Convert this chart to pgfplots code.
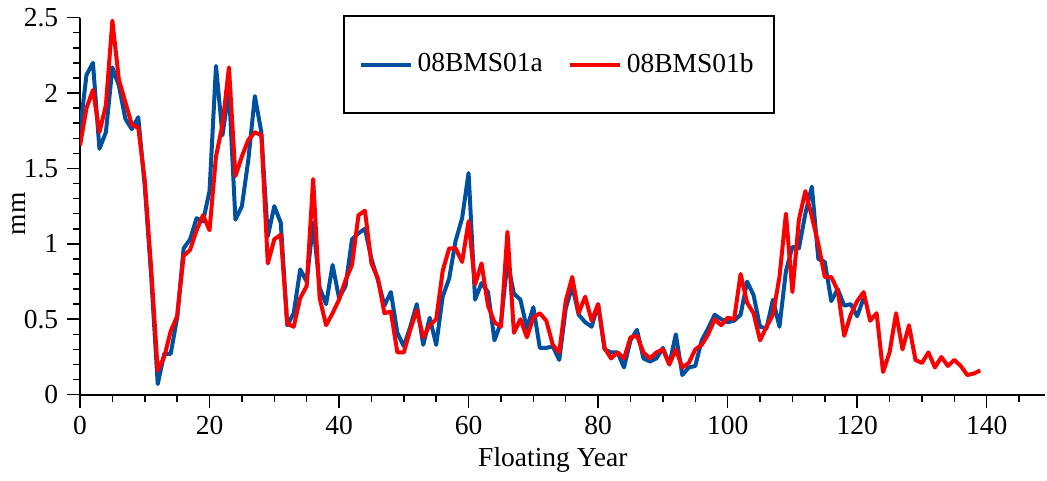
\documentclass[border=0pt]{standalone}
\usepackage{pgfplots}
\pgfplotsset{compat=1.18}
\usepackage{fontspec}
\setmainfont{Liberation Serif}

\definecolor{serblue}{RGB}{0,80,160}
\definecolor{serred}{RGB}{250,0,0}

% ring widths, floating years
\pgfplotstableread{
x y
0 1.75
1 2.12
2 2.20
3 1.63
4 1.74
5 2.17
6 2.05
7 1.83
8 1.76
9 1.84
10 1.38
11 0.78
12 0.07
13 0.27
14 0.27
15 0.51
16 0.97
17 1.03
18 1.17
19 1.15
20 1.35
21 2.18
22 1.72
23 2.02
24 1.16
25 1.25
26 1.56
27 1.98
28 1.74
29 1.05
30 1.25
31 1.14
32 0.46
33 0.54
34 0.83
35 0.75
36 1.14
37 0.71
38 0.60
39 0.86
40 0.64
41 0.72
42 1.03
43 1.07
44 1.10
45 0.90
46 0.76
47 0.59
48 0.68
49 0.41
50 0.32
51 0.45
52 0.60
53 0.33
54 0.51
55 0.33
56 0.65
57 0.77
58 1.02
59 1.17
60 1.47
61 0.63
62 0.74
63 0.68
64 0.36
65 0.48
66 0.88
67 0.67
68 0.63
69 0.44
70 0.58
71 0.31
72 0.31
73 0.32
74 0.23
75 0.57
76 0.72
77 0.53
78 0.48
79 0.45
80 0.60
81 0.30
82 0.28
83 0.28
84 0.18
85 0.36
86 0.43
87 0.24
88 0.22
89 0.24
90 0.31
91 0.20
92 0.40
93 0.13
94 0.18
95 0.19
96 0.36
97 0.44
98 0.53
99 0.50
100 0.48
101 0.49
102 0.53
103 0.75
104 0.66
105 0.45
106 0.44
107 0.63
108 0.45
109 0.82
110 0.98
111 0.97
112 1.20
113 1.38
114 0.90
115 0.88
116 0.62
117 0.70
118 0.59
119 0.60
120 0.52
121 0.64
}\seriesA

\pgfplotstableread{
x y
0 1.65
1 1.90
2 2.02
3 1.74
4 1.92
5 2.48
6 2.09
7 1.94
8 1.79
9 1.77
10 1.42
11 0.83
12 0.16
13 0.25
14 0.42
15 0.52
16 0.92
17 0.96
18 1.09
19 1.19
20 1.09
21 1.58
22 1.79
23 2.17
24 1.45
25 1.58
26 1.69
27 1.74
28 1.72
29 0.87
30 1.03
31 1.06
32 0.47
33 0.45
34 0.64
35 0.72
36 1.43
37 0.64
38 0.46
39 0.54
40 0.63
41 0.76
42 0.86
43 1.19
44 1.22
45 0.87
46 0.77
47 0.54
48 0.55
49 0.28
50 0.28
51 0.43
52 0.56
53 0.38
54 0.46
55 0.50
56 0.82
57 0.97
58 0.97
59 0.88
60 1.15
61 0.73
62 0.87
63 0.59
64 0.48
65 0.45
66 1.08
67 0.41
68 0.50
69 0.38
70 0.51
71 0.54
72 0.49
73 0.33
74 0.28
75 0.62
76 0.78
77 0.54
78 0.65
79 0.49
80 0.60
81 0.31
82 0.24
83 0.28
84 0.24
85 0.38
86 0.39
87 0.28
88 0.24
89 0.28
90 0.30
91 0.20
92 0.30
93 0.18
94 0.21
95 0.30
96 0.33
97 0.40
98 0.50
99 0.46
100 0.51
101 0.50
102 0.80
103 0.61
104 0.54
105 0.36
106 0.45
107 0.53
108 0.78
109 1.20
110 0.68
111 1.16
112 1.35
113 1.18
114 1.00
115 0.78
116 0.78
117 0.69
118 0.39
119 0.53
120 0.62
121 0.68
122 0.49
123 0.54
124 0.15
125 0.28
126 0.54
127 0.30
128 0.46
129 0.23
130 0.21
131 0.28
132 0.18
133 0.25
134 0.19
135 0.23
136 0.19
137 0.13
138 0.14
139 0.16
}\seriesB

\begin{document}
\begin{tikzpicture}[font=\fontsize{11}{13}\selectfont]
\begin{axis}[
    name=ax,
    scale only axis,
    width=386pt, height=150.8pt,
    xmin=0, xmax=149,
    ymin=0, ymax=2.5,
    axis lines=left,
    axis line style={-, line width=0.8pt},
    tick align=outside,
    major tick length=5.2pt,
    minor tick length=2.8pt,
    every tick/.style={black, line width=0.6pt},
    xtick={0,20,40,60,80,100,120,140},
    minor xtick={5,10,15,25,30,35,45,50,55,65,70,75,85,90,95,105,110,115,125,130,135,145},
    ytick={0,0.5,1,1.5,2,2.5},
    minor ytick={0.1,0.2,0.3,0.4,0.6,0.7,0.8,0.9,1.1,1.2,1.3,1.4,1.6,1.7,1.8,1.9,2.1,2.2,2.3,2.4},
    /pgf/number format/assume math mode=true,
    xlabel={Floating Year},
    ylabel={mm},
    xlabel style={at={(axis description cs:0.49,-0.172)}, anchor=center},
    ylabel style={at={(axis description cs:-0.063,0.48)}, anchor=center},
    legend columns=2,
    legend style={
        at={(0.496,1.008)}, anchor=north,
        draw=black, line width=0.8pt,
        inner xsep=6pt, inner ysep=13pt,
        /tikz/every even column/.append style={column sep=8pt},
    },
    legend image code/.code={\draw[#1] (2pt,0pt) -- (22pt,0pt);},
]
\addplot[serblue, line width=1.6pt, line join=round] table[x=x, y=y] {\seriesA};
\addlegendentry{08BMS01a}
\addplot[serred, line width=1.6pt, line join=round] table[x=x, y=y] {\seriesB};
\addlegendentry{08BMS01b}
\end{axis}
% page margins as in the reference
\path ([xshift=-32pt, yshift=-31.6pt]ax.south west) -- ([xshift=0.8pt]ax.north east);
\end{tikzpicture}
\end{document}
